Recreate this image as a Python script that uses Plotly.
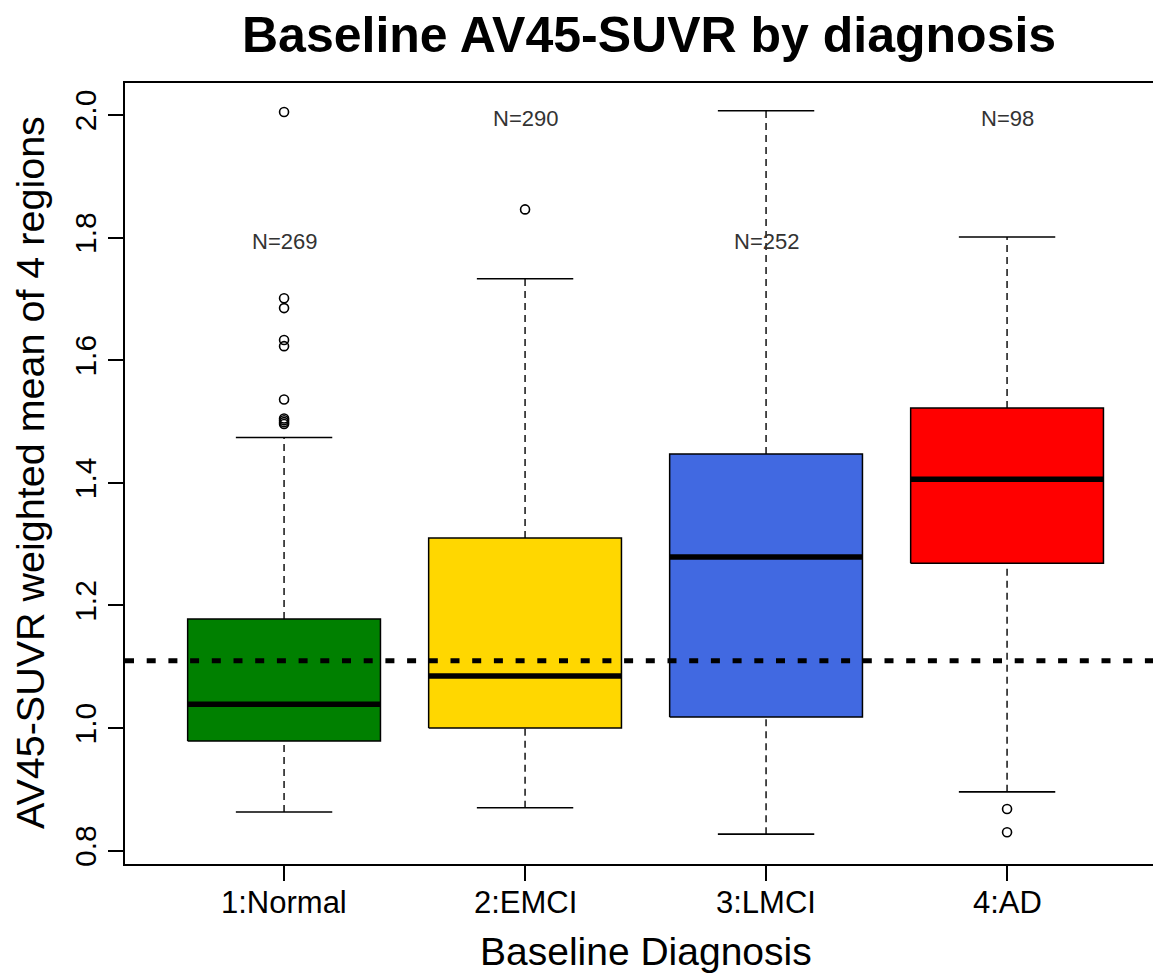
import plotly.graph_objects as go

# ---- data ----
categories = ["1:Normal", "2:EMCI", "3:LMCI", "4:AD"]
box_colors = ["#008000", "#FFD700", "#4169E1", "#FF0000"]
q1 = [0.979, 1.000, 1.018, 1.269]
median = [1.039, 1.085, 1.279, 1.406]
q3 = [1.178, 1.310, 1.447, 1.522]
lower_whisker = [0.863, 0.870, 0.827, 0.896]
upper_whisker = [1.474, 1.733, 2.007, 1.801]
outliers = [
    [2.005, 1.701, 1.685, 1.633, 1.623, 1.536, 1.505, 1.502, 1.499, 1.496],
    [1.846],
    [],
    [0.868, 0.830],
]
n_labels = ["N=269", "N=290", "N=252", "N=98"]
n_label_y = [1.794, 1.994, 1.794, 1.994]
reference_line = 1.11
y_ticks = [0.8, 1.0, 1.2, 1.4, 1.6, 1.8, 2.0]

BOX_W = 0.8
CAP_W = 0.4

W, H = 1153, 974
ml, mr, mt, mb = 125, 0, 83, 110
pw, ph = W - ml - mr, H - mt - mb


def px(xp):
    return (xp - ml) / pw


def py(yp):
    return (H - mb - yp) / ph


FONT = "Liberation Sans, Arial"

fig = go.Figure()
positions = list(range(1, len(categories) + 1))

for i, xpos in enumerate(positions):
    # whiskers (dashed)
    for a, b in ((q3[i], upper_whisker[i]), (lower_whisker[i], q1[i])):
        fig.add_trace(go.Scatter(x=[xpos, xpos], y=[a, b], mode="lines",
                                 line=dict(color="black", width=1.4, dash="7px,5px"),
                                 showlegend=False, hoverinfo="skip"))
    # staples
    for v in (upper_whisker[i], lower_whisker[i]):
        fig.add_trace(go.Scatter(x=[xpos - CAP_W / 2, xpos + CAP_W / 2], y=[v, v], mode="lines",
                                 line=dict(color="black", width=1.6),
                                 showlegend=False, hoverinfo="skip"))
    # box
    xl, xr = xpos - BOX_W / 2, xpos + BOX_W / 2
    fig.add_trace(go.Scatter(x=[xl, xr, xr, xl, xl], y=[q1[i], q1[i], q3[i], q3[i], q1[i]],
                             mode="lines", fill="toself", fillcolor=box_colors[i],
                             line=dict(color="black", width=1.5),
                             showlegend=False, hoverinfo="skip"))
    # median
    fig.add_trace(go.Scatter(x=[xl, xr], y=[median[i], median[i]], mode="lines",
                             line=dict(color="black", width=5.5),
                             showlegend=False, hoverinfo="skip"))
    # outliers
    if outliers[i]:
        fig.add_trace(go.Scatter(x=[xpos] * len(outliers[i]), y=outliers[i], mode="markers",
                                 marker=dict(symbol="circle-open", size=9, color="black",
                                             line=dict(width=1.6, color="black")),
                                 showlegend=False, hoverinfo="skip"))
    # N labels
    fig.add_annotation(x=xpos, y=n_label_y[i], text=n_labels[i], showarrow=False,
                       font=dict(family=FONT, size=22, color="#333333"))
    # category tick labels
    fig.add_annotation(x=xpos, xref="x", yref="paper", y=py(902), text=categories[i],
                       showarrow=False, xanchor="center", yanchor="middle",
                       font=dict(family=FONT, size=31, color="black"))

# dotted reference line
fig.add_shape(type="line", xref="paper", x0=0, x1=1, yref="y", y0=reference_line, y1=reference_line,
              line=dict(color="black", width=5, dash="9px,12.7px"), layer="above")

fig.add_annotation(xref="paper", yref="paper", x=px(649), y=py(35), text="<b>Baseline AV45-SUVR by diagnosis</b>",
                   showarrow=False, font=dict(family=FONT, size=50, color="black"),
                   xanchor="center", yanchor="middle")
fig.add_annotation(xref="paper", yref="paper", x=px(645.5), y=py(951), text="Baseline Diagnosis",
                   showarrow=False, font=dict(family=FONT, size=39, color="black"),
                   xanchor="center", yanchor="middle")
fig.add_annotation(xref="paper", yref="paper", x=px(30), y=py(473), text="AV45-SUVR weighted mean of 4 regions",
                   showarrow=False, textangle=-90, font=dict(family=FONT, size=39.5, color="black"),
                   xanchor="center", yanchor="middle")

fig.update_layout(
    width=W, height=H,
    margin=dict(l=ml, r=mr, t=mt, b=mb),
    paper_bgcolor="white", plot_bgcolor="white",
    showlegend=False,
    xaxis=dict(range=[0.34, 0.34 + pw / 241.0], tickvals=positions, ticktext=[""] * len(positions),
               showgrid=False, zeroline=False, showline=True, linecolor="black", linewidth=1.5,
               mirror=True, ticks="outside", ticklen=15, tickwidth=1.5, tickcolor="black",
               tickfont=dict(family=FONT, size=31, color="black")),
    yaxis=dict(range=[0.7783, 2.0522], tickvals=y_ticks, ticktext=[f"{v:.1f}" for v in y_ticks],
               showgrid=False, zeroline=False, showline=True, linecolor="black", linewidth=1.5,
               mirror=False, ticks="outside", ticklen=15, tickwidth=1.5, tickcolor="black",
               tickangle=-90, tickfont=dict(family=FONT, size=30, color="black")),
)

fig.write_html("out.html")
